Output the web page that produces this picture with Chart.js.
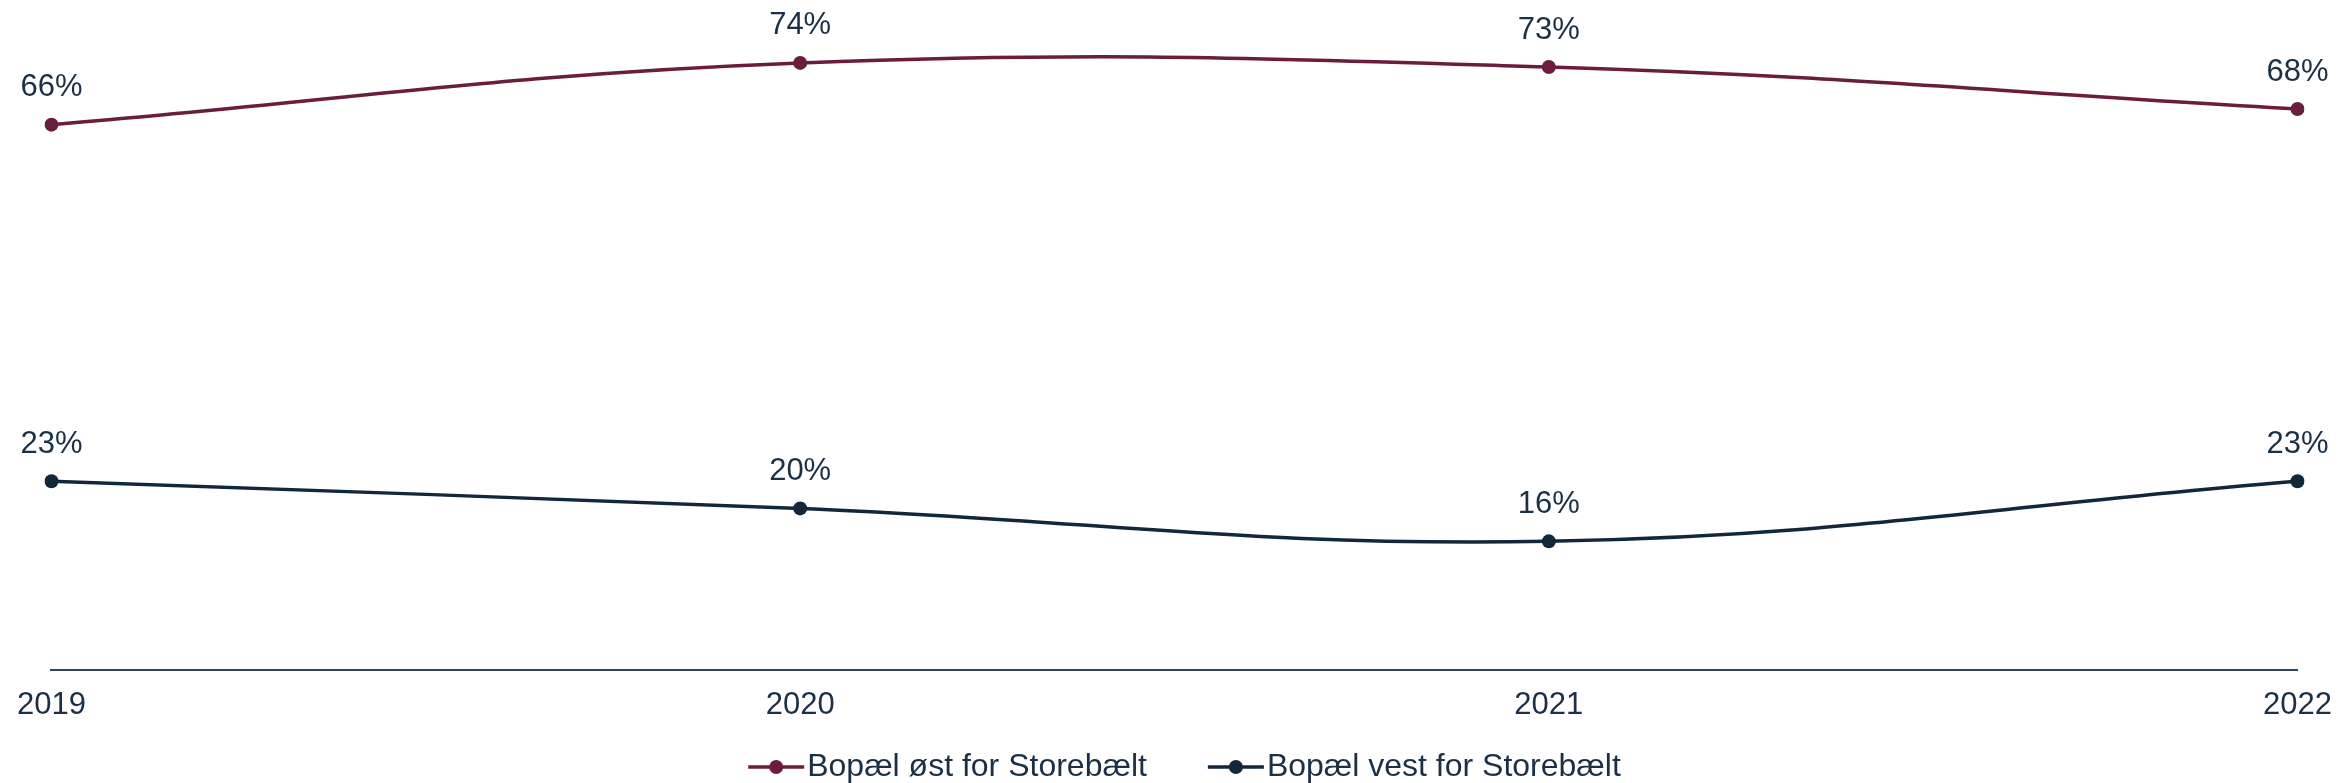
<!DOCTYPE html>
<html>
<head>
<meta charset="utf-8">
<script src="https://cdn.jsdelivr.net/npm/chart.js@4.4.1/dist/chart.umd.min.js"></script>
<style>
  html, body { margin: 0; padding: 0; background: #ffffff; overflow: hidden; }
  .chart-container { width: 2349px; height: 783px; }
</style>
</head>
<body>
<div class="chart-container">
  <canvas id="bopaelChart"></canvas>
</div>
<script>
const years = ['2019', '2020', '2021', '2022'];
const eastValues = [66.2, 73.7, 73.2, 68.1];
const westValues = [22.9, 19.6, 15.6, 22.9];
const seriesNames = ['Bopæl øst for Storebælt', 'Bopæl vest for Storebælt'];

const maroon = '#6b1d3e';
const navy = '#12273c';
const textColor = '#1b2f45';
const fontFamily = '"Liberation Sans", Arial, sans-serif';

// value labels above each point
const valueLabels = {
    id: 'valueLabels',
    afterDatasetsDraw(chart) {
        const ctx = chart.ctx;
        ctx.save();
        ctx.font = '31px ' + fontFamily;
        ctx.fillStyle = textColor;
        ctx.textAlign = 'center';
        ctx.textBaseline = 'middle';
        chart.data.datasets.forEach((ds, i) => {
            chart.getDatasetMeta(i).data.forEach((pt, j) => {
                ctx.fillText(Math.round(ds.data[j]) + '%', pt.x, pt.y - 37);
            });
        });
        ctx.restore();
    }
};

// legend: line with a dot, then the label
const lineLegend = {
    id: 'lineLegend',
    afterDraw(chart) {
        const ctx = chart.ctx;
        ctx.save();
        ctx.font = '32px ' + fontFamily;
        ctx.textBaseline = 'middle';
        const markW = 56, gapText = 3, gapItem = 61;
        const items = chart.data.datasets.map(ds => ({
            label: ds.label, color: ds.borderColor, w: ctx.measureText(ds.label).width
        }));
        let total = 0;
        items.forEach((it, i) => { total += markW + gapText + it.w + (i ? gapItem : 0); });
        let x = chart.width / 2 + 10 - total / 2;
        const y = 767;
        items.forEach(it => {
            ctx.strokeStyle = it.color;
            ctx.lineWidth = 3.5;
            ctx.beginPath();
            ctx.moveTo(x, y);
            ctx.lineTo(x + markW, y);
            ctx.stroke();
            ctx.fillStyle = it.color;
            ctx.beginPath();
            ctx.arc(x + markW / 2, y, 7, 0, Math.PI * 2);
            ctx.fill();
            ctx.fillStyle = textColor;
            ctx.fillText(it.label, x + markW + gapText, y);
            x += markW + gapText + it.w + gapItem;
        });
        ctx.restore();
    }
};

const chartData = {
    labels: years,
    datasets: [
        {
            label: seriesNames[0],
            data: eastValues,
            borderColor: maroon,
            backgroundColor: maroon,
            borderWidth: 3.5,
            pointRadius: 7,
            pointBorderWidth: 0,
            tension: 0.4,
        },
        {
            label: seriesNames[1],
            data: westValues,
            borderColor: navy,
            backgroundColor: navy,
            borderWidth: 3.5,
            pointRadius: 7,
            pointBorderWidth: 0,
            tension: 0.4,
        },
    ],
};

const options = {
    responsive: true,
    maintainAspectRatio: false,
    animation: false,
    layout: {
        autoPadding: false,
        padding: { left: 49, right: 41, top: 11, bottom: 42 }
    },
    plugins: {
        legend: { display: false },
        tooltip: { enabled: false },
    },
    scales: {
        x: {
            offset: false,
            grid: { display: false, drawTicks: false },
            border: { display: true, color: '#2e465c', width: 2 },
            ticks: {
                color: textColor,
                padding: 17,
                maxRotation: 0,
                font: { family: fontFamily, size: 31 },
            },
        },
        y: {
            display: false,
            min: 0,
            max: 80,
        },
    },
};

const ctx = document.getElementById('bopaelChart').getContext('2d');
new Chart(ctx, {
    type: 'line',
    data: chartData,
    options: options,
    plugins: [valueLabels, lineLegend],
});
</script>
</body>
</html>
